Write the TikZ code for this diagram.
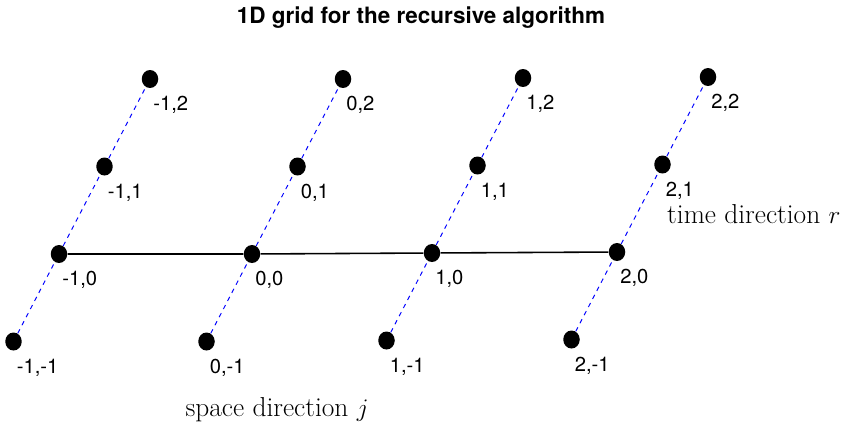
\documentclass[tikz,border=0pt]{standalone}
\usepackage{fontspec}
\setsansfont{TeX Gyre Heros}
\usetikzlibrary{shapes.geometric}

\begin{document}
\begin{tikzpicture}[x=0.02cm,y=-0.02cm, font=\sffamily,
  dot/.style={ellipse, fill=black, inner sep=0pt, minimum width=0.33cm, minimum height=0.36cm},
  lab/.style={anchor=north west, inner sep=0pt, font=\sffamily\fontsize{11.5}{13}\selectfont},
  timeline/.style={blue, dash pattern=on 2.6pt off 2.6pt, line width=0.55pt},
  spaceline/.style={black, line width=0.9pt},
  dirlab/.style={font=\rmfamily\fontsize{15.6}{19}\selectfont}]
\useasboundingbox (0,0) rectangle (845,426);

% title
\node[font=\sffamily\bfseries\fontsize{12.8}{15}\selectfont] (title) at (421,18) {1D grid for the recursive algorithm};

% grid points j (space), r (time)
\foreach \j/\bx/\by in {-1/59/254, 0/252/254, 1/432/253, 2/617/252}{
  \foreach \r in {-1,0,1,2}{
    \node[dot] (n\j_\r) at ({\bx+45.5*(\r)},{\by-87.5*(\r)}) {};
    \node[lab] (l\j_\r) at ([shift={(3,17)}]n\j_\r.center) {\j,\r};
  }
}

% time lines
\foreach \j in {-1,0,1,2}
  \draw[timeline] (n\j_-1) -- (n\j_0) -- (n\j_1) -- (n\j_2);

% space line
\draw[spaceline] (n-1_0) -- (n0_0) -- (n1_0) -- (n2_0);

\node[dirlab, anchor=west] (timelab) at (661,214) {time direction $r$};
\node[dirlab] (spacelab) at (277,410) {space direction $j$};
\end{tikzpicture}
\end{document}
